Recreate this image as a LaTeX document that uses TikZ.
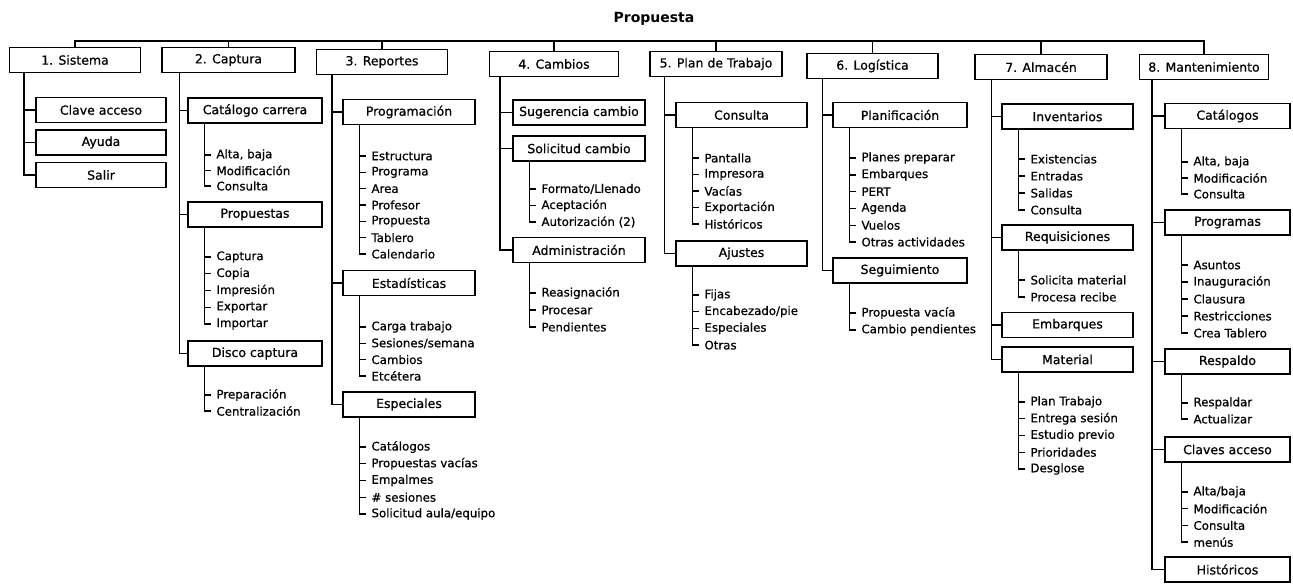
\documentclass[tikz,border=0pt]{standalone}
\usepackage{fontspec}
\setmainfont{DejaVu Sans}[FakeBold=0.7]
\newfontfamily\titlefont{DejaVu Sans Bold}
\usetikzlibrary{calc}
\tikzset{
  box/.style={draw, line width=1.4pt, minimum height=25pt, inner sep=1pt, font=\fontsize{12.5}{14}\selectfont},
  leaf/.style={anchor=west, inner xsep=5pt, inner ysep=0pt, font=\fontsize{11.8}{13}\selectfont},
  conn/.style={line width=1.4pt},
  ttl/.style={font=\titlefont\fontsize{14}{16}\selectfont},
}
\newcommand{\leaflist}[5]{%
  \coordinate (#4-t) at ($(#1.south west)+(17,0)$);
  \foreach \t [count=\i] in {#5} {%
    \pgfmathsetmacro\yy{#2+(\i-1)*#3}
    \node[leaf,xshift=7pt] (#4-\i) at (#4-t |- 0,\yy) {\t};
    \draw[conn] (#4-t) |- (#4-\i.west);
  }%
}
\begin{document}
\begin{tikzpicture}[x=1pt,y=-1pt]
\useasboundingbox (0,0) rectangle (1293,584);
\node[ttl] (title) at (654,19) {Propuesta};
% top level
\node[box, minimum width=131pt] (s1) at (75,60) {1. Sistema};
\node[box, minimum width=133pt] (s2) at (228.5,60) {2. Captura};
\node[box, minimum width=131pt] (s3) at (382,62) {3. Reportes};
\node[box, minimum width=129pt] (s4) at (554,64) {4. Cambios};
\node[box, minimum width=132pt] (s5) at (716,64) {5. Plan de Trabajo};
\node[box, minimum width=131pt] (s6) at (872.5,66) {6. Logística};
\node[box, minimum width=132pt] (s7) at (1041,67) {7. Almacén};
\node[box, minimum width=129pt] (s8) at (1204,67) {8. Mantenimiento};
\coordinate (bus) at (0,41);
\draw[conn] (s1.north) |- (s8.north |- bus) -- (s8.north);
\foreach \s in {s2,s3,s4,s5,s6,s7} \draw[conn] (\s.north) -- (\s.north |- bus);
% column 1
\node[box, minimum width=130pt] (c11) at (101,110) {Clave acceso};
\node[box, minimum width=130pt] (c12) at (101,142.5) {Ayuda};
\node[box, minimum width=130pt] (c13) at (101,175) {Salir};
\coordinate (T1) at ($(s1.south west)+(15,0)$);
\foreach \c in {c11,c12,c13} \draw[conn] (T1) |- (\c.west);
% column 2
\node[box, minimum width=134pt] (c21) at (255,110.5) {Catálogo carrera};
\node[box, minimum width=134pt] (c22) at (255,214.5) {Propuestas};
\node[box, minimum width=134pt] (c23) at (255,353.5) {Disco captura};
\coordinate (T2) at ($(s2.south west)+(18,0)$);
\foreach \c in {c21,c22,c23} \draw[conn] (T2) |- (\c.west);
\leaflist{c21}{155}{15.5}{l21}{{Alta, baja},Modificación,Consulta}
\leaflist{c22}{257}{16.75}{l22}{Captura,Copia,Impresión,Exportar,Importar}
\leaflist{c23}{395}{16}{l23}{Preparación,Centralización}
% column 3
\node[box, minimum width=132pt] (c31) at (409,112) {Programación};
\node[box, minimum width=132pt] (c32) at (409,283) {Estadísticas};
\node[box, minimum width=132pt] (c33) at (409,404.5) {Especiales};
\coordinate (T3) at ($(s3.south west)+(16,0)$);
\foreach \c in {c31,c32,c33} \draw[conn] (T3) |- (\c.west);
\leaflist{c31}{156}{16.33}{l31}{Estructura,Programa,Area,Profesor,Propuesta,Tablero,Calendario}
\leaflist{c32}{327}{16.3}{l32}{Carga trabajo,Sesiones/semana,Cambios,Etcétera}
\leaflist{c33}{447}{16.75}{l33}{Catálogos,Propuestas vacías,Empalmes,\# sesiones,Solicitud aula/equipo}
% column 4
\node[box, minimum width=132pt] (c41) at (579,112.5) {Sugerencia cambio};
\node[box, minimum width=132pt] (c42) at (579,148.5) {Solicitud cambio};
\node[box, minimum width=132pt] (c43) at (579,250) {Administración};
\coordinate (T4) at ($(s4.south west)+(11,0)$);
\foreach \c in {c41,c42,c43} \draw[conn] (T4) |- (\c.west);
\leaflist{c42}{189}{16.5}{l42}{Formato/Llenado,Aceptación,Autorización (2)}
\leaflist{c43}{293}{17}{l43}{Reasignación,Procesar,Pendientes}
% column 5
\node[box, minimum width=131pt] (c51) at (741.5,115) {Consulta};
\node[box, minimum width=131pt] (c52) at (741.5,253.5) {Ajustes};
\coordinate (T5) at ($(s5.south west)+(15,0)$);
\foreach \c in {c51,c52} \draw[conn] (T5) |- (\c.west);
\leaflist{c51}{158}{16.5}{l51}{Pantalla,Impresora,Vacías,Exportación,Históricos}
\leaflist{c52}{295}{16.7}{l52}{Fijas,Encabezado/pie,Especiales,Otras}
% column 6
\node[box, minimum width=134pt] (c61) at (900,115) {Planificación};
\node[box, minimum width=134pt] (c62) at (900,270.5) {Seguimiento};
\coordinate (T6) at ($(s6.south west)+(16,0)$);
\foreach \c in {c61,c62} \draw[conn] (T6) |- (\c.west);
\leaflist{c61}{158}{16.8}{l61}{Planes preparar,Embarques,PERT,Agenda,Vuelos,Otras actividades}
\leaflist{c62}{313}{17}{l62}{Propuesta vacía,Cambio pendientes}
% column 7
\node[box, minimum width=131pt] (c71) at (1067.5,116.5) {Inventarios};
\node[box, minimum width=131pt] (c72) at (1067.5,237.5) {Requisiciones};
\node[box, minimum width=131pt] (c73) at (1067.5,325) {Embarques};
\node[box, minimum width=131pt] (c74) at (1067.5,359.5) {Material};
\coordinate (T7) at ($(s7.south west)+(17,0)$);
\foreach \c in {c71,c72,c73,c74} \draw[conn] (T7) |- (\c.west);
\leaflist{c71}{159}{17}{l71}{Existencias,Entradas,Salidas,Consulta}
\leaflist{c72}{280}{17}{l72}{Solicita material,Procesa recibe}
\leaflist{c74}{402}{16.75}{l74}{Plan Trabajo,Entrega sesión,Estudio previo,Prioridades,Desglose}
% column 8
\node[box, minimum width=125pt] (c81) at (1227.5,116) {Catálogos};
\node[box, minimum width=125pt] (c82) at (1227.5,222.5) {Programas};
\node[box, minimum width=125pt] (c83) at (1227.5,361.5) {Respaldo};
\node[box, minimum width=125pt] (c84) at (1227.5,449.5) {Claves acceso};
\node[box, minimum width=125pt] (c85) at (1227.5,569.5) {Históricos};
\coordinate (T8) at ($(s8.south west)+(13,0)$);
\foreach \c in {c81,c82,c83,c84,c85} \draw[conn] (T8) |- (\c.west);
\leaflist{c81}{162}{16}{l81}{{Alta, baja},Modificación,Consulta}
\leaflist{c82}{265}{17}{l82}{Asuntos,Inauguración,Clausura,Restricciones,Crea Tablero}
\leaflist{c83}{403}{16}{l83}{Respaldar,Actualizar}
\leaflist{c84}{492}{16.7}{l84}{Alta/baja,Modificación,Consulta,menús}
\end{tikzpicture}
\end{document}
